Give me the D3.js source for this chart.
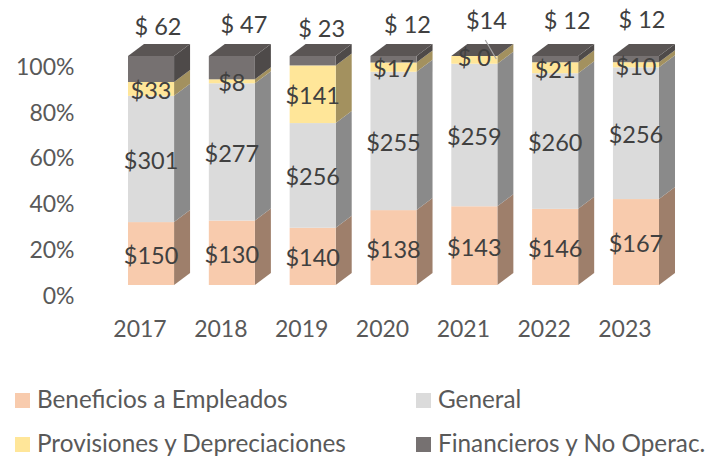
<!DOCTYPE html>
<html>
<head>
<meta charset="utf-8">
<script src="https://cdn.jsdelivr.net/npm/d3@7"></script>
<style>
html, body { margin: 0; padding: 0; background: #fff; overflow: hidden; }
text { font-family: Lato, "Open Sans", sans-serif; }
</style>
</head>
<body>
<svg width="707" height="456"></svg>
<script>
// values
var years = ["2017", "2018", "2019", "2020", "2021", "2022", "2023"];
var beneficios = [150, 130, 140, 138, 143, 146, 167];
var general = [301, 277, 256, 255, 259, 260, 256];
var provisiones = [33, 8, 141, 17, 14, 21, 10];
var financieros = [62, 47, 23, 12, 0, 12, 12];
var seriesKeys = ["beneficios", "general", "provisiones", "financieros"];
var seriesNames = ["Beneficios a Empleados", "General", "Provisiones y Depreciaciones", "Financieros y No Operac."];
var pctTicks = [0, 0.2, 0.4, 0.6, 0.8, 1];

// colours: front, side
var front = ["#f8cbad", "#dbdbdb", "#ffe699", "#767171"];
var side = ["#9e7f6b", "#8a8a8a", "#a3915f", "#4e4a49"];
var topColor = "#5a5554";

var dx = 16, dy = 12;   // depth of the fake 3d

var rows = years.map(function (y, i) {
	return { year: y, beneficios: beneficios[i], general: general[i], provisiones: provisiones[i], financieros: financieros[i] };
});
var stack = d3.stack().keys(seriesKeys).offset(d3.stackOffsetExpand);
var series = stack(rows);

var svg = d3.select("svg");
var x = d3.scaleBand().domain(years).range([128, 659]).paddingInner(0.43).paddingOuter(0);
var y = d3.scaleLinear().domain([0, 1]).range([285, 56]);
var w = x.bandwidth();

// hand-placed labels above the bars like in the original: [dx, dy] from bar top
var topOffset = [[7, -30], [12, -32], [9, -28], [14, -32], [0, 0], [12, -36], [6, -37]];

var groups = svg.selectAll("g.serie").data(series).enter().append("g").attr("class", "serie");

groups.each(function (s, si) {
	var g = d3.select(this);
	g.selectAll("polygon").data(s).enter().append("polygon")
		.attr("fill", side[si])
		.attr("points", function (d) {
			var px = x(d.data.year) + w, y0 = y(d[0]), y1 = y(d[1]);
			return [[px, y1], [px + dx, y1 - dy], [px + dx, y0 - dy], [px, y0]].join(" ");
		});
	g.selectAll("rect").data(s).enter().append("rect")
		.attr("x", function (d) { return x(d.data.year); })
		.attr("y", function (d) { return y(d[1]); })
		.attr("width", w)
		.attr("height", function (d) { return y(d[0]) - y(d[1]); })
		.attr("fill", front[si]);
});

// top faces
svg.selectAll("polygon.top").data(years).enter().append("polygon")
	.attr("class", "top")
	.attr("fill", topColor)
	.attr("points", function (d) {
		var px = x(d), py = y(1);
		return [[px, py], [px + dx, py - dy], [px + w + dx, py - dy], [px + w, py]].join(" ");
	});

// leader line of 2021
svg.append("line")
	.attr("x1", x("2021") + 34).attr("y1", 40)
	.attr("x2", x("2021") + 45).attr("y2", 59)
	.attr("stroke", "#a6a6a6").attr("stroke-width", 1.2);

// data labels
var labelColor = "#404040";
series.slice(0, 3).forEach(function (s, si) {
	svg.selectAll("text.l" + si).data(s).enter().append("text")
		.attr("class", "l" + si)
		.attr("text-anchor", "middle")
		.attr("dominant-baseline", "central")
		.attr("font-size", 23.5)
		.attr("fill", labelColor)
		.attr("x", function (d) { return x(d.data.year) + w / 2 + (d.data.year == "2021" && si == 2 ? 12 : 0); })
		.attr("y", function (d) {
			if (d.data.year == "2021" && si == 2) return 20;
			return (y(d[0]) + y(d[1])) / 2 + 1;
		})
		.text(function (d) { return "$" + d.data[seriesKeys[si]]; });
});
svg.selectAll("text.l3").data(series[3]).enter().append("text")
	.attr("class", "l3")
	.attr("text-anchor", "middle")
	.attr("dominant-baseline", "central")
	.attr("font-size", 23.5)
	.attr("fill", labelColor)
	.attr("x", function (d, i) { return x(d.data.year) + w / 2 + topOffset[i][0]; })
	.attr("y", function (d, i) { return d.data.financieros == 0 ? 57 : y(d[1]) + topOffset[i][1]; })
	.text(function (d) { return "$ " + d.data.financieros; });

// axes: no lines, only labels
var axisY = d3.axisLeft(y).tickValues(pctTicks).tickSize(0).tickPadding(0).tickFormat(d3.format(".0%"));
var gy = svg.append("g").attr("transform", "translate(74.5,11)").call(axisY);
gy.select(".domain").remove();
gy.selectAll("text").attr("font-size", 23).attr("fill", "#595959").style("font-family", "Lato");

var axisX = d3.axisBottom(x).tickSize(0).tickPadding(0);
var gx = svg.append("g").attr("transform", "translate(-11,321)").call(axisX);
gx.select(".domain").remove();
gx.selectAll("text").attr("font-size", 23).attr("fill", "#595959").style("font-family", "Lato");

// legend
var legendX = d3.scaleOrdinal().domain(seriesNames).range([15, 416, 15, 416]);
var legendY = d3.scaleOrdinal().domain(seriesNames).range([393, 393, 437, 437]);
var lg = svg.selectAll("g.leg").data(seriesNames).enter().append("g").attr("class", "leg")
	.attr("transform", function (d) { return "translate(" + legendX(d) + "," + legendY(d) + ")"; });
lg.append("rect").attr("width", 15).attr("height", 15).attr("fill", function (d, i) { return front[i]; });
lg.append("text").attr("x", 22).attr("y", 15).attr("font-size", 24.3).attr("fill", "#595959").text(function (d) { return d; });
</script>
</body>
</html>
